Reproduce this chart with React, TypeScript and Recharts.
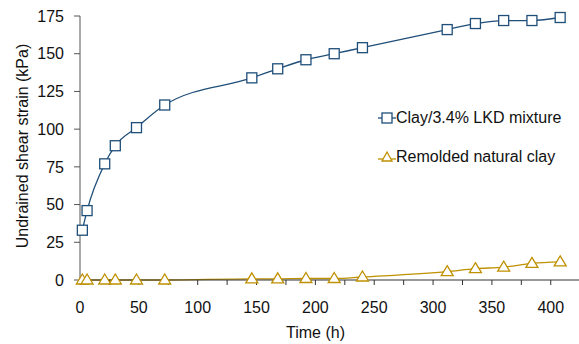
import React from "react";
import { LineChart, Line, XAxis, YAxis } from "recharts";

const timeH = [2, 6, 21, 30, 48, 72, 146, 168, 192, 216, 240, 312, 336, 360, 384, 408];
const clayLkd = [33, 46, 77, 89, 101, 116, 134, 140, 146, 150, 154, 166, 170, 172, 172, 174];
const remolded = [0, 0, 0, 0, 0, 0, 0.8, 0.8, 1, 1, 2, 5.5, 7.5, 8.5, 11, 12];
const xTicks = [0, 25, 50, 75, 100, 125, 150, 175, 200, 225, 250, 275, 300, 325, 350, 375, 400];
const yTicks = [0, 25, 50, 75, 100, 125, 150, 175];

const data = timeH.map((t, i) => ({ time: t, clay: clayLkd[i], remolded: remolded[i] }));

const BLUE = "#1f4e79";
const GOLD = "#bf9000";
const FONT = "'Liberation Sans', Arial, sans-serif";

const Square = (props: any) => {
  const { cx, cy, index } = props;
  return <rect key={index} x={cx - 5} y={cy - 5} width={10} height={10} fill="#fff" stroke={BLUE} strokeWidth={1.3} />;
};

const Triangle = (props: any) => {
  const { cx, cy, index } = props;
  return (
    <path key={index} d={`M${cx},${cy - 6} L${cx + 6},${cy + 4} L${cx - 6},${cy + 4} Z`} fill="#fff" stroke={GOLD} strokeWidth={1.3} />
  );
};

// legend drawn as an overlay so it doesn't steal plot space
const ChartLegend = () => (
  <div style={{ position: "absolute", left: 378, top: 108, fontFamily: FONT, fontSize: 16, color: "#111" }}>
    <div style={{ display: "flex", alignItems: "center", height: 20, marginBottom: 19 }}>
      <svg width={18} height={14}>
        <line x1={0} y1={7} x2={18} y2={7} stroke={BLUE} strokeWidth={1.3} />
        <rect x={4} y={2} width={10} height={10} fill="#fff" stroke={BLUE} strokeWidth={1.3} />
      </svg>
      <span>Clay/3.4% LKD mixture</span>
    </div>
    <div style={{ display: "flex", alignItems: "center", height: 20 }}>
      <svg width={18} height={14}>
        <line x1={0} y1={9} x2={18} y2={9} stroke={GOLD} strokeWidth={1.3} />
        <path d="M9,2 L14,11 L4,11 Z" fill="#fff" stroke={GOLD} strokeWidth={1.3} />
      </svg>
      <span>Remolded natural clay</span>
    </div>
  </div>
);

export default function App() {
  const tickStyle = { fill: "#111", fontSize: 16, fontFamily: FONT };
  return (
    <div style={{ position: "absolute", left: 0, top: 0, width: 579, height: 344, background: "#fff" }}>
      <LineChart width={579} height={344} data={data} margin={{ top: 16, right: 0, bottom: 0, left: 0 }}>
        <XAxis
          dataKey="time"
          type="number"
          domain={[0, 424]}
          ticks={xTicks}
          interval={0}
          tickFormatter={(v: number) => (v % 50 === 0 ? String(v) : "")}
          height={64}
          tickSize={5}
          tickMargin={17}
          stroke="#333"
          tick={tickStyle}
          label={{ value: "Time (h)", position: "insideBottom", offset: 6, dx: -14, style: tickStyle }}
        />
        <YAxis
          type="number"
          domain={[0, 175]}
          ticks={yTicks}
          interval={0}
          width={80}
          tickSize={6}
          tickMargin={10}
          stroke="#555"
          tick={tickStyle}
          label={{ value: "Undrained shear strain (kPa)", angle: -90, position: "center", dx: -18, dy: -2, style: { ...tickStyle, textAnchor: "middle" } }}
        />
        <Line type="monotone" dataKey="clay" stroke={BLUE} strokeWidth={1.3} dot={Square} isAnimationActive={false} />
        <Line type="monotone" dataKey="remolded" stroke={GOLD} strokeWidth={1.3} dot={Triangle} isAnimationActive={false} />
      </LineChart>
      <ChartLegend />
    </div>
  );
}
